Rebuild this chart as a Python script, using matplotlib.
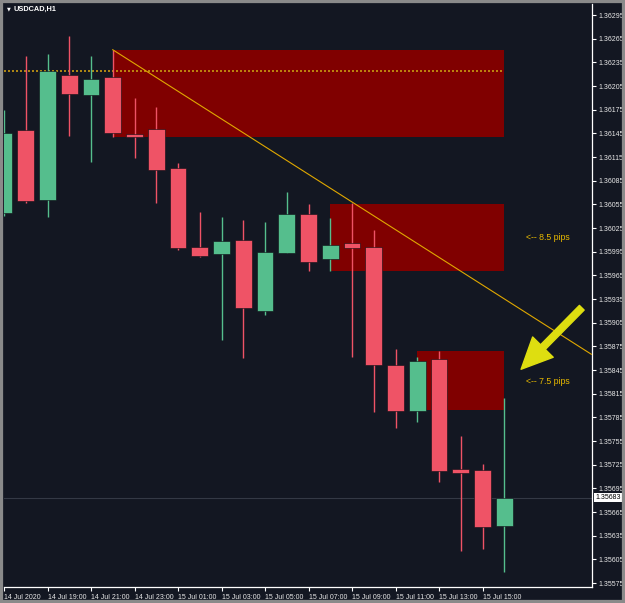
import numpy as np
import matplotlib
matplotlib.use("Agg")
import matplotlib.pyplot as plt
from matplotlib.patches import Rectangle
from matplotlib.transforms import blended_transform_factory

plt.rcParams['font.family'] = ['Liberation Sans', 'DejaVu Sans']

# USDCAD H1, 14 Jul 17:00 -> 15 Jul 16:00
hours = ["17:00", "18:00", "19:00", "20:00", "21:00", "22:00", "23:00", "00:00",
         "01:00", "02:00", "03:00", "04:00", "05:00", "06:00", "07:00", "08:00",
         "09:00", "10:00", "11:00", "12:00", "13:00", "14:00", "15:00", "16:00"]
opens = [1.36044, 1.36149, 1.36060, 1.36219, 1.36194, 1.36216, 1.36144, 1.36151,
         1.36101, 1.36001, 1.35992, 1.36010, 1.35920, 1.35994, 1.36043, 1.35986,
         1.36006, 1.36001, 1.35851, 1.35793, 1.35859, 1.35719, 1.35718, 1.35647]
highs = [1.36175, 1.36243, 1.36246, 1.36269, 1.36243, 1.36251, 1.36190, 1.36179,
         1.36107, 1.36045, 1.36039, 1.36035, 1.36033, 1.36071, 1.36055, 1.36038,
         1.36057, 1.36022, 1.35872, 1.35861, 1.35869, 1.35762, 1.35726, 1.35809]
lows = [1.36040, 1.36057, 1.36039, 1.36142, 1.36109, 1.36140, 1.36114, 1.36057,
        1.35997, 1.35988, 1.35883, 1.35860, 1.35915, 1.35993, 1.35971, 1.35970,
        1.35862, 1.35792, 1.35772, 1.35779, 1.35703, 1.35616, 1.35618, 1.35589]
closes = [1.36146, 1.36059, 1.36224, 1.36195, 1.36214, 1.36145, 1.36141, 1.36099,
          1.36000, 1.35990, 1.36009, 1.35924, 1.35995, 1.36043, 1.35982, 1.36004,
          1.36000, 1.35851, 1.35793, 1.35857, 1.35717, 1.35715, 1.35646, 1.35683]

# supply zones: start bar, end bar, top, bottom
zone_start = [5, 15, 19]
zone_end = [23, 23, 23]
zone_top = [1.36251, 1.36055, 1.35869]
zone_bottom = [1.36140, 1.35970, 1.35794]

# dotted level, trend line, arrow, notes
level_price = 1.36224
trend_x = [5, 27]
trend_y = [1.36251, 1.35865]
arrow_tail = (26.56, 1.35924)
arrow_tip = (23.77, 1.35846)
note_x = [24.0, 24.0]
note_y = [1.36013, 1.35831]
note_text = ["<-- 8.5 pips", "<-- 7.5 pips"]
last_price = 1.35683

xtick_pos = [0, 2, 4, 6, 8, 10, 12, 14, 16, 18, 20, 22]
xtick_labels = ["14 Jul 2020", "14 Jul 19:00", "14 Jul 21:00", "14 Jul 23:00",
                "15 Jul 01:00", "15 Jul 03:00", "15 Jul 05:00", "15 Jul 07:00",
                "15 Jul 09:00", "15 Jul 11:00", "15 Jul 13:00", "15 Jul 15:00"]
ytick_pos = [1.35575 + 0.0003 * k for k in range(25)]

bg = '#131722'
red = '#ef5366'
green = '#55be8d'

fig = plt.figure(figsize=(6.25, 6.03), dpi=100, facecolor=bg)
ax = fig.add_axes([4 / 625, 16 / 603, 588 / 625, 583 / 603], facecolor=bg)

x = np.arange(len(hours))
o = np.array(opens)
c = np.array(closes)
up = c >= o
cols = np.where(up, green, red)

# zones behind everything
for s, e, t, b in zip(zone_start, zone_end, zone_top, zone_bottom):
    ax.fill_between([s, e], [b, b], [t, t], color='#800000', lw=0, zorder=1)

ax.axhline(last_price, color='#343945', lw=0.8, zorder=1.5)
ax.plot([0, 23], [level_price, level_price], color='#c99a12', lw=1.2,
        ls=(0, (1.2, 1.2)), zorder=2)

ax.vlines(x, lows, highs, colors=cols, lw=1, zorder=3)
ax.bar(x, np.abs(c - o), bottom=np.minimum(o, c), width=0.77, color=cols,
       edgecolor='#0b0d14', lw=0.4, zorder=4)

ax.plot(trend_x, trend_y, color='#e0a800', lw=0.8, zorder=5)

ax.annotate('', xy=arrow_tip, xytext=arrow_tail,
            arrowprops=dict(arrowstyle='simple,head_width=1.3,head_length=1.4,tail_width=0.3',
                            color='#dede10', mutation_scale=16, shrinkA=0, shrinkB=0),
            zorder=6)

for nx, ny, nt in zip(note_x, note_y, note_text):
    ax.text(nx, ny, nt, color='#e6b800', fontsize=6.3, va='center', ha='left', zorder=6)

ax.set_xlim(0, 27.03)
ax.set_ylim(1.35570, 1.36309)

ax.yaxis.tick_right()
ax.set_yticks(ytick_pos)
ax.set_yticklabels(["%.5f" % v for v in ytick_pos])
ax.set_xticks(xtick_pos)
ax.set_xticklabels(xtick_labels, ha='left')
ax.tick_params(axis='both', colors='white', labelsize=5, length=3, width=0.8,
               labelcolor='#e8e8e8')
ax.tick_params(axis='x', pad=2)
ax.tick_params(axis='y', pad=1.5)

for side in ['top', 'left']:
    ax.spines[side].set_visible(False)
for side in ['right', 'bottom']:
    ax.spines[side].set_color('white')
    ax.spines[side].set_linewidth(0.9)

tr = blended_transform_factory(ax.transAxes, ax.transData)
ax.text(1.006, last_price, "%.5f" % last_price, transform=tr, fontsize=5,
        color='black', va='center', ha='left',
        bbox=dict(fc='white', ec='none', pad=0.8), zorder=7, clip_on=False)

fig.text(7 / 625, 1 - 9 / 603, "\u25bc", color='white', fontsize=3.5,
         va='center', ha='left', family='DejaVu Sans')
fig.text(14 / 625, 1 - 9 / 603, "USDCAD,H1", color='white', fontsize=5.3,
         va='center', ha='left', fontweight='bold')

fig.patches.append(Rectangle((0, 0), 1, 1, transform=fig.transFigure, fill=False,
                             ec='#8a8a8a', lw=4.5))

fig.savefig('out.png', dpi=100, facecolor=bg)
